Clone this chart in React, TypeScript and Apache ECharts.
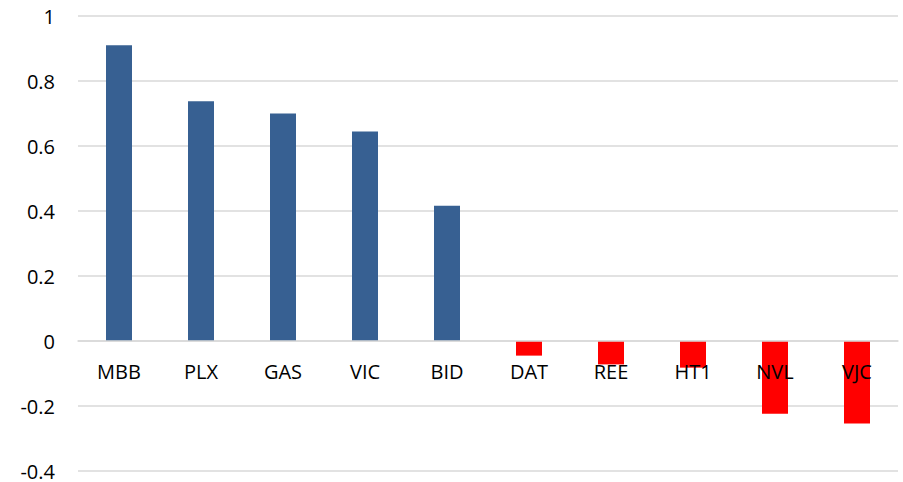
import React, { useEffect, useRef } from "react";
import * as echarts from "echarts";

const categories = ["MBB", "PLX", "GAS", "VIC", "BID", "DAT", "REE", "HT1", "NVL", "VJC"];
const values = [0.91, 0.738, 0.70, 0.645, 0.416, -0.045, -0.072, -0.082, -0.224, -0.254];
const yMin = -0.4;
const yMax = 1;
const positiveColor = "#376092";
const negativeColor = "#ff0000";

const GRID_TOP = 16;
const GRID_BOTTOM = 11;
const HEIGHT = 482;

export default function App() {
  const ref = useRef<HTMLDivElement>(null);
  useEffect(() => {
    document.body.style.margin = "0";
    const chart = echarts.init(ref.current!, null, { renderer: "svg" });
    const gridH = HEIGHT - GRID_TOP - GRID_BOTTOM;
    const zeroOffset = -gridH * ((0 - yMin) / (yMax - yMin));
    chart.setOption({
      animation: false,
      backgroundColor: "#ffffff",
      grid: {
        left: 78,
        right: 5,
        top: GRID_TOP,
        bottom: GRID_BOTTOM,
        containLabel: false,
        outerBoundsMode: "none",
      },
      xAxis: {
        type: "category",
        data: categories,
        offset: zeroOffset,
        axisLine: { onZero: false, lineStyle: { color: "#d9d9d9", width: 1.5 } },
        axisTick: { show: false },
        axisLabel: {
          margin: 20,
          color: "#000000",
          fontFamily: "Open Sans",
          fontSize: 20,
          lineHeight: 20,
        },
        z: 10,
      },
      yAxis: {
        type: "value",
        min: yMin,
        max: yMax,
        interval: 0.2,
        axisLine: { show: false },
        axisTick: { show: false },
        splitLine: { lineStyle: { color: "#d9d9d9", width: 1.5 } },
        axisLabel: {
          margin: 23,
          color: "#000000",
          fontFamily: "Open Sans",
          fontSize: 20,
          lineHeight: 14,
          formatter: (v: number) => String(parseFloat(v.toFixed(1))),
        },
      },
      series: [
        {
          type: "bar",
          barWidth: 26,
          data: values.map((v) => ({
            value: v,
            itemStyle: { color: v >= 0 ? positiveColor : negativeColor },
          })),
          z: 2,
        },
      ],
    });
    return () => chart.dispose();
  }, []);
  return <div ref={ref} style={{ width: 903, height: 482 }} />;
}
